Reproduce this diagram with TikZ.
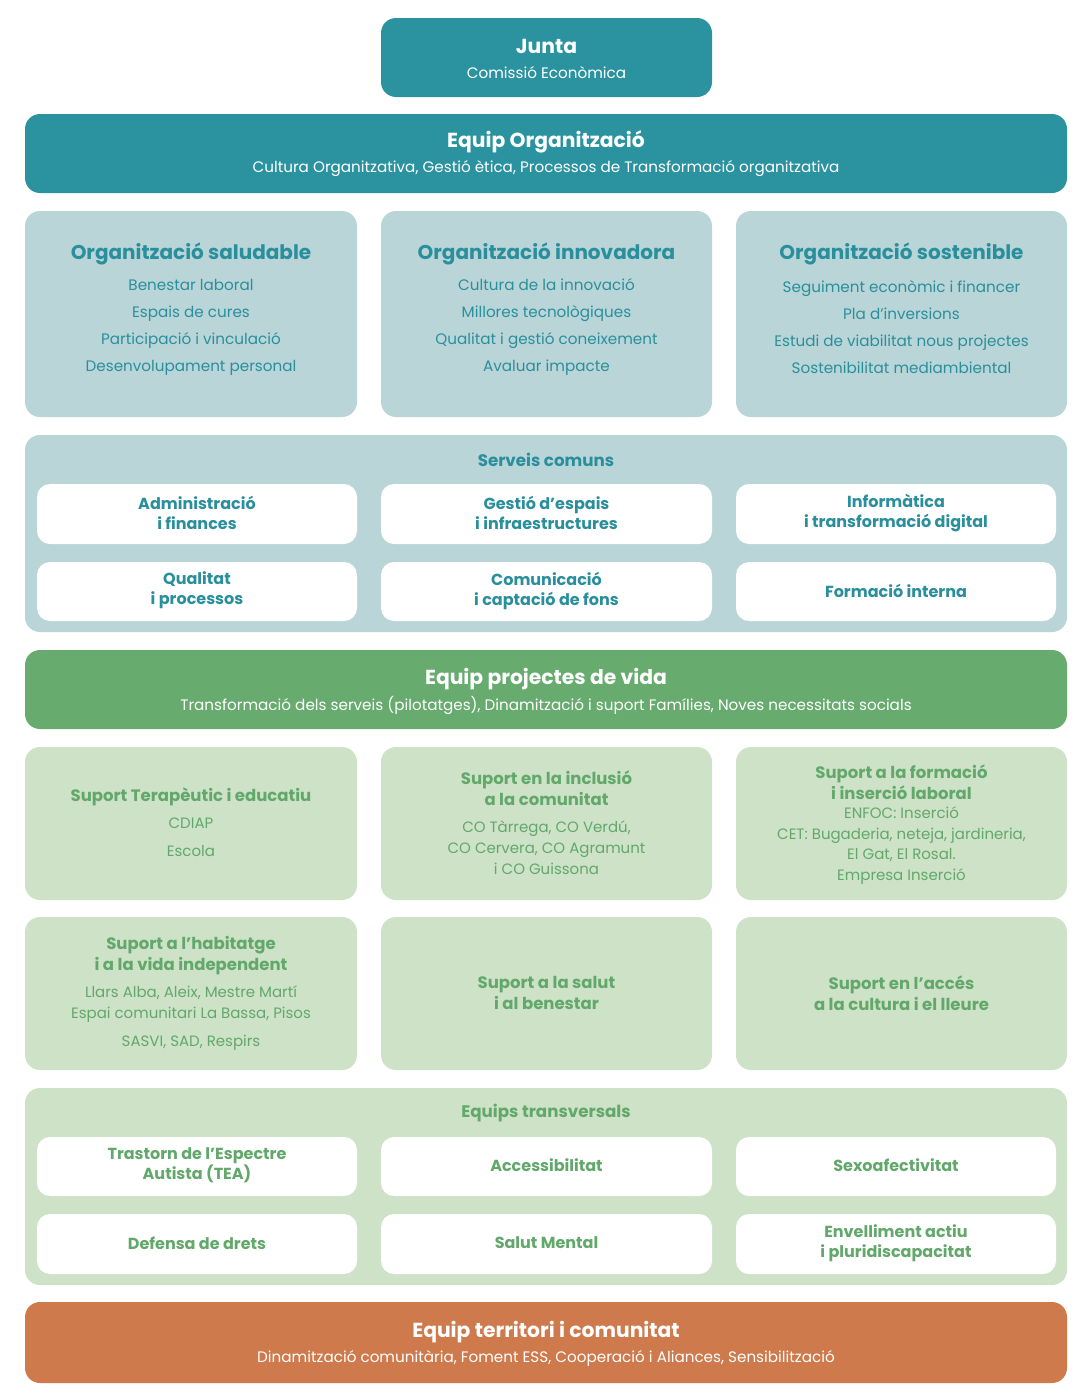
\documentclass[tikz,border=0pt]{standalone}
\usepackage{fontspec}
\setmainfont{Poppins}
\usetikzlibrary{fit}
\definecolor{tealD}{HTML}{2B93A0}
\definecolor{tealL}{HTML}{B9D5D8}
\definecolor{tealT}{HTML}{2A8F9C}
\definecolor{greenD}{HTML}{67AB6F}
\definecolor{greenL}{HTML}{CDE2C7}
\definecolor{greenT}{HTML}{62A86B}
\definecolor{orangeD}{HTML}{CE7A4D}
\newcommand{\fsz}[2]{\fontsize{#1}{#2}\selectfont}
\tikzset{
  panel/.style={inner sep=0pt, rounded corners=15pt, draw=none},
  whitebox/.style={panel, fill=white, rounded corners=13pt},
  txt/.style={inner sep=0pt, align=center, anchor=center, yshift=-0.6pt},
  bigtitle/.style={txt, text=white, font=\bfseries\fsz{20.3}{24}},
  bigsub/.style={txt, text=white, font=\fsz{15.2}{18}},
  orgtitle/.style={txt, text=tealT, font=\bfseries\fsz{20}{24}},
  orgitem/.style={txt, text=tealT, font=\fsz{15.2}{27}},
  sectitle/.style={txt, font=\bfseries\fsz{16.7}{20}},
  cell/.style={txt, yshift=1.6pt, font=\bfseries\fsz{16}{20}},
  gtitle/.style={txt, text=greenT, font=\bfseries\fsz{16.5}{21}},
  gitem/.style={txt, text=greenT, font=\fsz{15}{21}}
}
\begin{document}
\begin{tikzpicture}[x=1pt,y=-1pt]
\useasboundingbox (0,0) rectangle (1089,1400);
\fill[white] (0,0) rectangle (1089,1400);

% Junta
\node[panel, fill=tealD, fit={(381,18) (712,97)}] (junta) {};
\node[bigtitle] (juntaT) at (546.5,46) {Junta};
\node[bigsub] (juntaS) at (546.5,72) {Comissió Econòmica};

% Equip Organitzacio
\node[panel, fill=tealD, fit={(25,114) (1067,193)}] (eorg) {};
\node[bigtitle] (eorgT) at (546,141) {Equip Organització};
\node[bigsub] (eorgS) at (546,168) {Cultura Organitzativa, Gestió ètica, Processos de Transformació organitzativa};

% Three organitzacio boxes
\node[panel, fill=tealL, fit={(25,211) (357,417)}] (osal) {};
\node[panel, fill=tealL, fit={(381,211) (712,417)}] (oinn) {};
\node[panel, fill=tealL, fit={(736,211) (1067,417)}] (osos) {};
\node[orgtitle] (osalT) at (191,253) {Organització saludable};
\node[orgtitle] (oinnT) at (546.5,253) {Organització innovadora};
\node[orgtitle] (ososT) at (901.5,253) {Organització sostenible};
\node[orgitem] (osalI) at (191,326.5) {Benestar laboral\\Espais de cures\\Participació i vinculació\\Desenvolupament personal};
\node[orgitem] (oinnI) at (546.5,326.5) {Cultura de la innovació\\Millores tecnològiques\\Qualitat i gestió coneixement\\Avaluar impacte};
\node[orgitem] (ososI) at (901.5,326.5) {Seguiment econòmic i financer\\Pla d’inversions\\Estudi de viabilitat nous projectes\\Sostenibilitat mediambiental};

% Serveis comuns
\node[panel, fill=tealL, fit={(25,435) (1067,632)}] (serv) {};
\node[sectitle, text=tealT] (servT) at (546,459) {Serveis comuns};
\node[whitebox, fit={(37,484) (357,544)}] (s1) {};
\node[whitebox, fit={(381,484) (712,544)}] (s2) {};
\node[whitebox, fit={(736,484) (1056,544)}] (s3) {};
\node[whitebox, fit={(37,562) (357,621)}] (s4) {};
\node[whitebox, fit={(381,562) (712,621)}] (s5) {};
\node[whitebox, fit={(736,562) (1056,621)}] (s6) {};
\node[cell, text=tealT] at (s1) {Administració\\i finances};
\node[cell, text=tealT] at (s2) {Gestió d’espais\\i infraestructures};
\node[cell, text=tealT] at (s3) {Informàtica\\i transformació digital};
\node[cell, text=tealT] at (s4) {Qualitat\\i processos};
\node[cell, text=tealT] at (s5) {Comunicació\\i captació de fons};
\node[cell, text=tealT] at (s6) {Formació interna};

% Equip projectes de vida
\node[panel, fill=greenD, fit={(25,650) (1067,729)}] (epv) {};
\node[bigtitle] (epvT) at (546,678) {Equip projectes de vida};
\node[bigsub] (epvS) at (546,705) {Transformació dels serveis (pilotatges), Dinamització i suport Famílies, Noves necessitats socials};

% Green boxes row 1
\node[panel, fill=greenL, fit={(25,747) (357,900)}] (g1) {};
\node[panel, fill=greenL, fit={(381,747) (712,900)}] (g2) {};
\node[panel, fill=greenL, fit={(736,747) (1067,900)}] (g3) {};
\node[gtitle] (g1T) at (191,796) {Suport Terapèutic i educatiu};
\node[gitem, font=\fsz{15}{28}] (g1I) at (191,837) {CDIAP\\Escola};
\node[gtitle] (g2T) at (546.5,787.5) {Suport en la inclusió\\a la comunitat};
\node[gitem] (g2I) at (546.5,847.5) {CO Tàrrega, CO Verdú,\\CO Cervera, CO Agramunt\\i CO Guissona};
\node[gtitle] (g3T) at (901.5,781.5) {Suport a la formació\\i inserció laboral};
\node[gitem, font=\fsz{15}{20.7}] (g3I) at (901.5,845) {ENFOC: Inserció\\CET: Bugaderia, neteja, jardineria,\\El Gat, El Rosal.\\Empresa Inserció};

% Green boxes row 2
\node[panel, fill=greenL, fit={(25,917) (357,1070)}] (g4) {};
\node[panel, fill=greenL, fit={(381,917) (712,1070)}] (g5) {};
\node[panel, fill=greenL, fit={(736,917) (1067,1070)}] (g6) {};
\node[gtitle] (g4T) at (191,954.5) {Suport a l’habitatge\\i a la vida independent};
\node[gitem] (g4I) at (191,1003.5) {Llars Alba, Aleix, Mestre Martí\\Espai comunitari La Bassa, Pisos};
\node[gitem] (g4J) at (191,1042) {SASVI, SAD, Respirs};
\node[gtitle] (g5T) at (546.5,992.5) {Suport a la salut\\i al benestar};
\node[gtitle] (g6T) at (901.5,992.5) {Suport en l’accés\\a la cultura i el lleure};

% Equips transversals
\node[panel, fill=greenL, fit={(25,1088) (1067,1285)}] (etr) {};
\node[sectitle, text=greenT] (etrT) at (546,1112) {Equips transversals};
\node[whitebox, fit={(37,1137) (357,1196)}] (t1) {};
\node[whitebox, fit={(381,1137) (712,1196)}] (t2) {};
\node[whitebox, fit={(736,1137) (1056,1196)}] (t3) {};
\node[whitebox, fit={(37,1214) (357,1274)}] (t4) {};
\node[whitebox, fit={(381,1214) (712,1274)}] (t5) {};
\node[whitebox, fit={(736,1214) (1056,1274)}] (t6) {};
\node[cell, text=greenT] at (t1) {Trastorn de l’Espectre\\Autista (TEA)};
\node[cell, text=greenT] at (t2) {Accessibilitat};
\node[cell, text=greenT] at (t3) {Sexoafectivitat};
\node[cell, text=greenT] at (t4) {Defensa de drets};
\node[cell, text=greenT] at (t5) {Salut Mental};
\node[cell, text=greenT] at (t6) {Envelliment actiu\\i pluridiscapacitat};

% Equip territori i comunitat
\node[panel, fill=orangeD, fit={(25,1302) (1067,1383)}] (eter) {};
\node[bigtitle] (eterT) at (546,1331) {Equip territori i comunitat};
\node[bigsub] (eterS) at (546,1358) {Dinamització comunitària, Foment ESS, Cooperació i Aliances, Sensibilització};
\end{tikzpicture}
\end{document}
